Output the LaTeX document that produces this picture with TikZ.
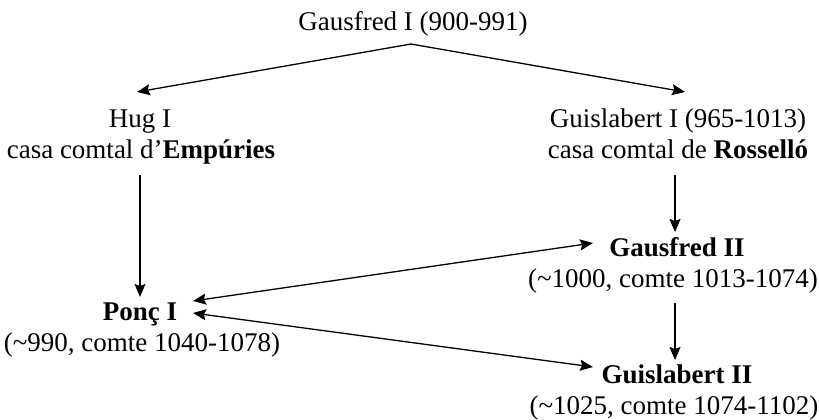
\documentclass[tikz,border=0pt]{standalone}
\usepackage{fontspec}
\setmainfont{Liberation Serif}
\usetikzlibrary{arrows.meta}
\begin{document}
\begin{tikzpicture}[x=1pt,y=-1pt,
  lbl/.style={anchor=base,inner sep=0pt,font=\fontsize{27}{31}\selectfont},
  tip/.style={Stealth[length=13pt,width=11pt,inset=2pt]},
  arr/.style={line width=1.3pt,-{Stealth[length=13pt,width=11pt,inset=2pt]}},
  darr/.style={line width=1.3pt,{Stealth[length=13pt,width=11pt,inset=2pt]}-{Stealth[length=13pt,width=11pt,inset=2pt]}}]
\useasboundingbox (0,0) rectangle (819,420);
% texts
\node[lbl] (g1) at (413,31) {Gausfred I (900-991)};
\node[lbl] (hug1) at (140,127) {Hug I};
\node[lbl] (hug2) at (141,158) {casa comtal d’\textbf{Empúries}};
\node[lbl] (gui1) at (678,127) {Guislabert I (965-1013)};
\node[lbl] (gui2) at (678,158) {casa comtal de \textbf{Rosselló}};
\node[lbl] (ponc1) at (140,320) {\textbf{Ponç I}};
\node[lbl] (ponc2) at (142,351) {(\char"007E 990, comte 1040-1078)};
\node[lbl] (gf2a) at (677,256) {\textbf{Gausfred II}};
\node[lbl] (gf2b) at (673,287) {(\char"007E 1000, comte 1013-1074)};
\node[lbl] (gl2a) at (677,383) {\textbf{Guislabert II}};
\node[lbl] (gl2b) at (674,414) {(\char"007E 1025, comte 1074-1102)};
% connector ends
\coordinate (apex) at (411,44);
\coordinate (hugin) at (137,92);
\coordinate (guiin) at (685,92);
\coordinate (hugout) at (140,175);
\coordinate (poncin) at (140,297);
\coordinate (guiout) at (675,175);
\coordinate (gf2in) at (675,232);
\coordinate (gf2out) at (675,303);
\coordinate (gl2in) at (675,360);
\coordinate (poncA) at (193,301);
\coordinate (poncB) at (193,313);
\coordinate (gf2side) at (593,243);
\coordinate (gl2side) at (593,367);
% connectors
\draw[arr] (apex) -- (hugin);
\draw[arr] (apex) -- (guiin);
\draw[arr] (hugout) -- (poncin);
\draw[arr] (guiout) -- (gf2in);
\draw[arr] (gf2out) -- (gl2in);
\draw[darr] (poncA) -- (gf2side);
\draw[darr] (poncB) -- (gl2side);
\end{tikzpicture}
\end{document}
